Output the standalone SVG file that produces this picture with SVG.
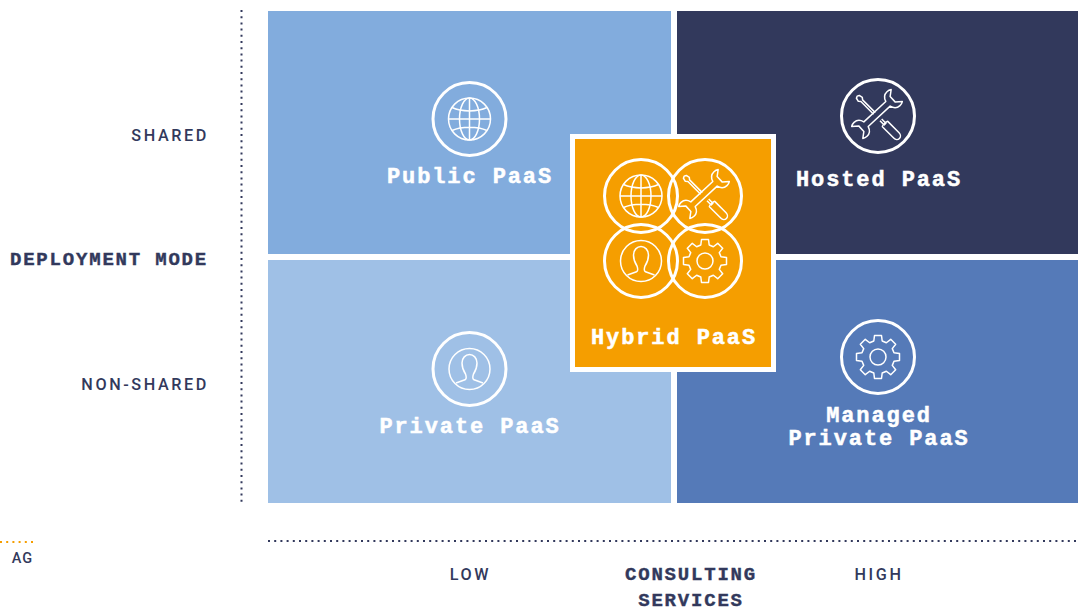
<svg xmlns="http://www.w3.org/2000/svg" width="1078" height="608" viewBox="0 0 1078 608">
<style>
.ring{fill:none;stroke:#fff;stroke-width:3}
.ic{fill:none;stroke:#fff;stroke-width:1.5;stroke-linejoin:round}
.t{font-family:"Liberation Mono","DejaVu Sans Mono",monospace;font-weight:700;font-size:22px;letter-spacing:1.9px;fill:#fff;text-anchor:middle;stroke:#fff;stroke-width:.5px}
.h{font-family:"Liberation Mono","DejaVu Sans Mono",monospace;font-weight:700;font-size:19px;letter-spacing:1.8px;fill:#32395c;stroke:#32395c;stroke-width:.4px}
.a{font-family:Roboto,"Liberation Sans",sans-serif;font-weight:500;font-size:16.2px;letter-spacing:2.6px;fill:#32395c}
.axis{fill:none;stroke:#32395c;stroke-width:2;stroke-dasharray:2 4.2}
</style>
<defs>
<g id="globe" class="ic">
<circle r="21"/><ellipse rx="10" ry="21"/><path d="M0-21V21M-21 0H21M-17.500-11.500C-8-7 8-7 17.500-11.500M-17.500 11.500C-8 7 8 7 17.500 11.500"/>
</g>
<g id="tools" class="ic">
<path transform="translate(-1 -2) rotate(-43)" d="M-15-3.200H15C16-6.800 18.500-9.500 22.500-9.500C24-9.500 25.500-9.200 27-8.200L21.500-3.800V3.800L27 8.200C25.500 9.200 24 9.500 22.500 9.500C18.500 9.500 16 6.800 15 3.200H-15C-16 6.800-18.500 9.500-22.500 9.500C-24 9.500-25.500 9.200-27 8.200L-21.500 3.800V-3.800L-27-8.200C-25.500-9.200-24-9.500-22.500-9.500C-18.500-9.500-16-6.800-15-3.200Z"/>
<path transform="translate(0 1) rotate(45)" d="M-5-1.200H-23L-25-2.800-28.500-2-29.500 0-28.500 2-25 2.800-23 1.200H-5M4 1.200H10V-1.200H4M10-3.800H26C28.500-3.800 30.300-2 30.300 0S28.500 3.800 26 3.800H10C9 3.800 9-3.800 10-3.800Z"/>
</g>
<g id="person" class="ic">
<circle r="20.500"/><path d="M-13.500 14L-4.500 10.800C-3 10-3.300 7-4 5C-6 2-7.500-2-7.500-6C-7.500-11-4-14.500 0-14.500C4-14.500 7.500-11 7.500-6C7.500-2 6 2 4 5C3.300 7 3 10 4.500 10.800L13.500 14"/>
</g>
<g id="gear" class="ic">
<circle r="8"/><path d="M16-4.200L21.500-3.500V3.500L16 4.200L14.280 8.340L17.680 12.730L12.730 17.680L8.340 14.280L4.200 16L3.500 21.500H-3.500L-4.200 16L-8.340 14.280L-12.730 17.680L-17.680 12.730L-14.280 8.340L-16 4.200L-21.500 3.500V-3.500L-16-4.200L-14.280-8.340L-17.680-12.730L-12.730-17.680L-8.340-14.280L-4.200-16L-3.500-21.500H3.500L4.200-16L8.340-14.280L12.730-17.680L17.680-12.730L14.280-8.340Z"/>
</g>
</defs>
<rect width="1078" height="608" fill="#fff"/>
<g id="axes">
<path class="axis" d="M241.500 10V503"/>
<path class="axis" d="M268 541H1078"/>
<path d="M0 542H33" fill="none" stroke="#f59e00" stroke-width="2" stroke-dasharray="2 4.200"/>
</g>
<g id="public-paas">
<rect x="268" y="11" width="403" height="243" fill="#82acdd"/>
<circle class="ring" cx="469.500" cy="119" r="36.500"/>
<use href="#globe" x="469.500" y="119"/>
<text class="t" x="470" y="183">Public PaaS</text>
</g>
<g id="hosted-paas">
<rect x="677" y="11" width="401" height="243" fill="#32395c"/>
<circle class="ring" cx="878" cy="116" r="36.500"/>
<use href="#tools" x="878" y="116"/>
<text class="t" x="879" y="186">Hosted PaaS</text>
</g>
<g id="private-paas">
<rect x="268" y="260" width="403" height="243" fill="#9fc0e6"/>
<circle class="ring" cx="469.500" cy="369" r="36.500"/>
<use href="#person" x="469.500" y="369"/>
<text class="t" x="470" y="433">Private PaaS</text>
</g>
<g id="managed-paas">
<rect x="677" y="260" width="401" height="243" fill="#557ab8"/>
<circle class="ring" cx="878" cy="357" r="36.500"/>
<use href="#gear" x="878" y="357"/>
<text class="t" x="879" y="422">Managed</text>
<text class="t" x="879" y="445">Private PaaS</text>
</g>
<g id="hybrid-paas">
<rect x="572.500" y="136.500" width="201" height="233" fill="#f59e00" stroke="#fff" stroke-width="5"/>
<circle class="ring" cx="641" cy="196" r="36.500"/>
<circle class="ring" cx="705" cy="196" r="36.500"/>
<circle class="ring" cx="641" cy="261" r="36.500"/>
<circle class="ring" cx="705" cy="261" r="36.500"/>
<use href="#globe" x="641" y="196"/>
<use href="#tools" x="705" y="196"/>
<use href="#person" x="641" y="261"/>
<use href="#gear" x="705" y="261"/>
<text class="t" x="674" y="344">Hybrid PaaS</text>
</g>
<g id="labels">
<text class="a" x="209" y="141" text-anchor="end">SHARED</text>
<text class="h" x="208" y="265" text-anchor="end">DEPLOYMENT MODE</text>
<text class="a" x="209" y="390" text-anchor="end">NON-SHARED</text>
<text class="a" x="470.500" y="580" text-anchor="middle">LOW</text>
<text class="h" x="691" y="580" text-anchor="middle">CONSULTING</text>
<text class="h" x="691" y="605.500" text-anchor="middle">SERVICES</text>
<text class="a" x="879" y="580" text-anchor="middle">HIGH</text>
<text x="22.500" y="563" text-anchor="middle" font-family="Roboto,'Liberation Sans',sans-serif" font-weight="500" font-size="14.500px" letter-spacing="1px" fill="#32395c">AG</text>
</g>
</svg>
